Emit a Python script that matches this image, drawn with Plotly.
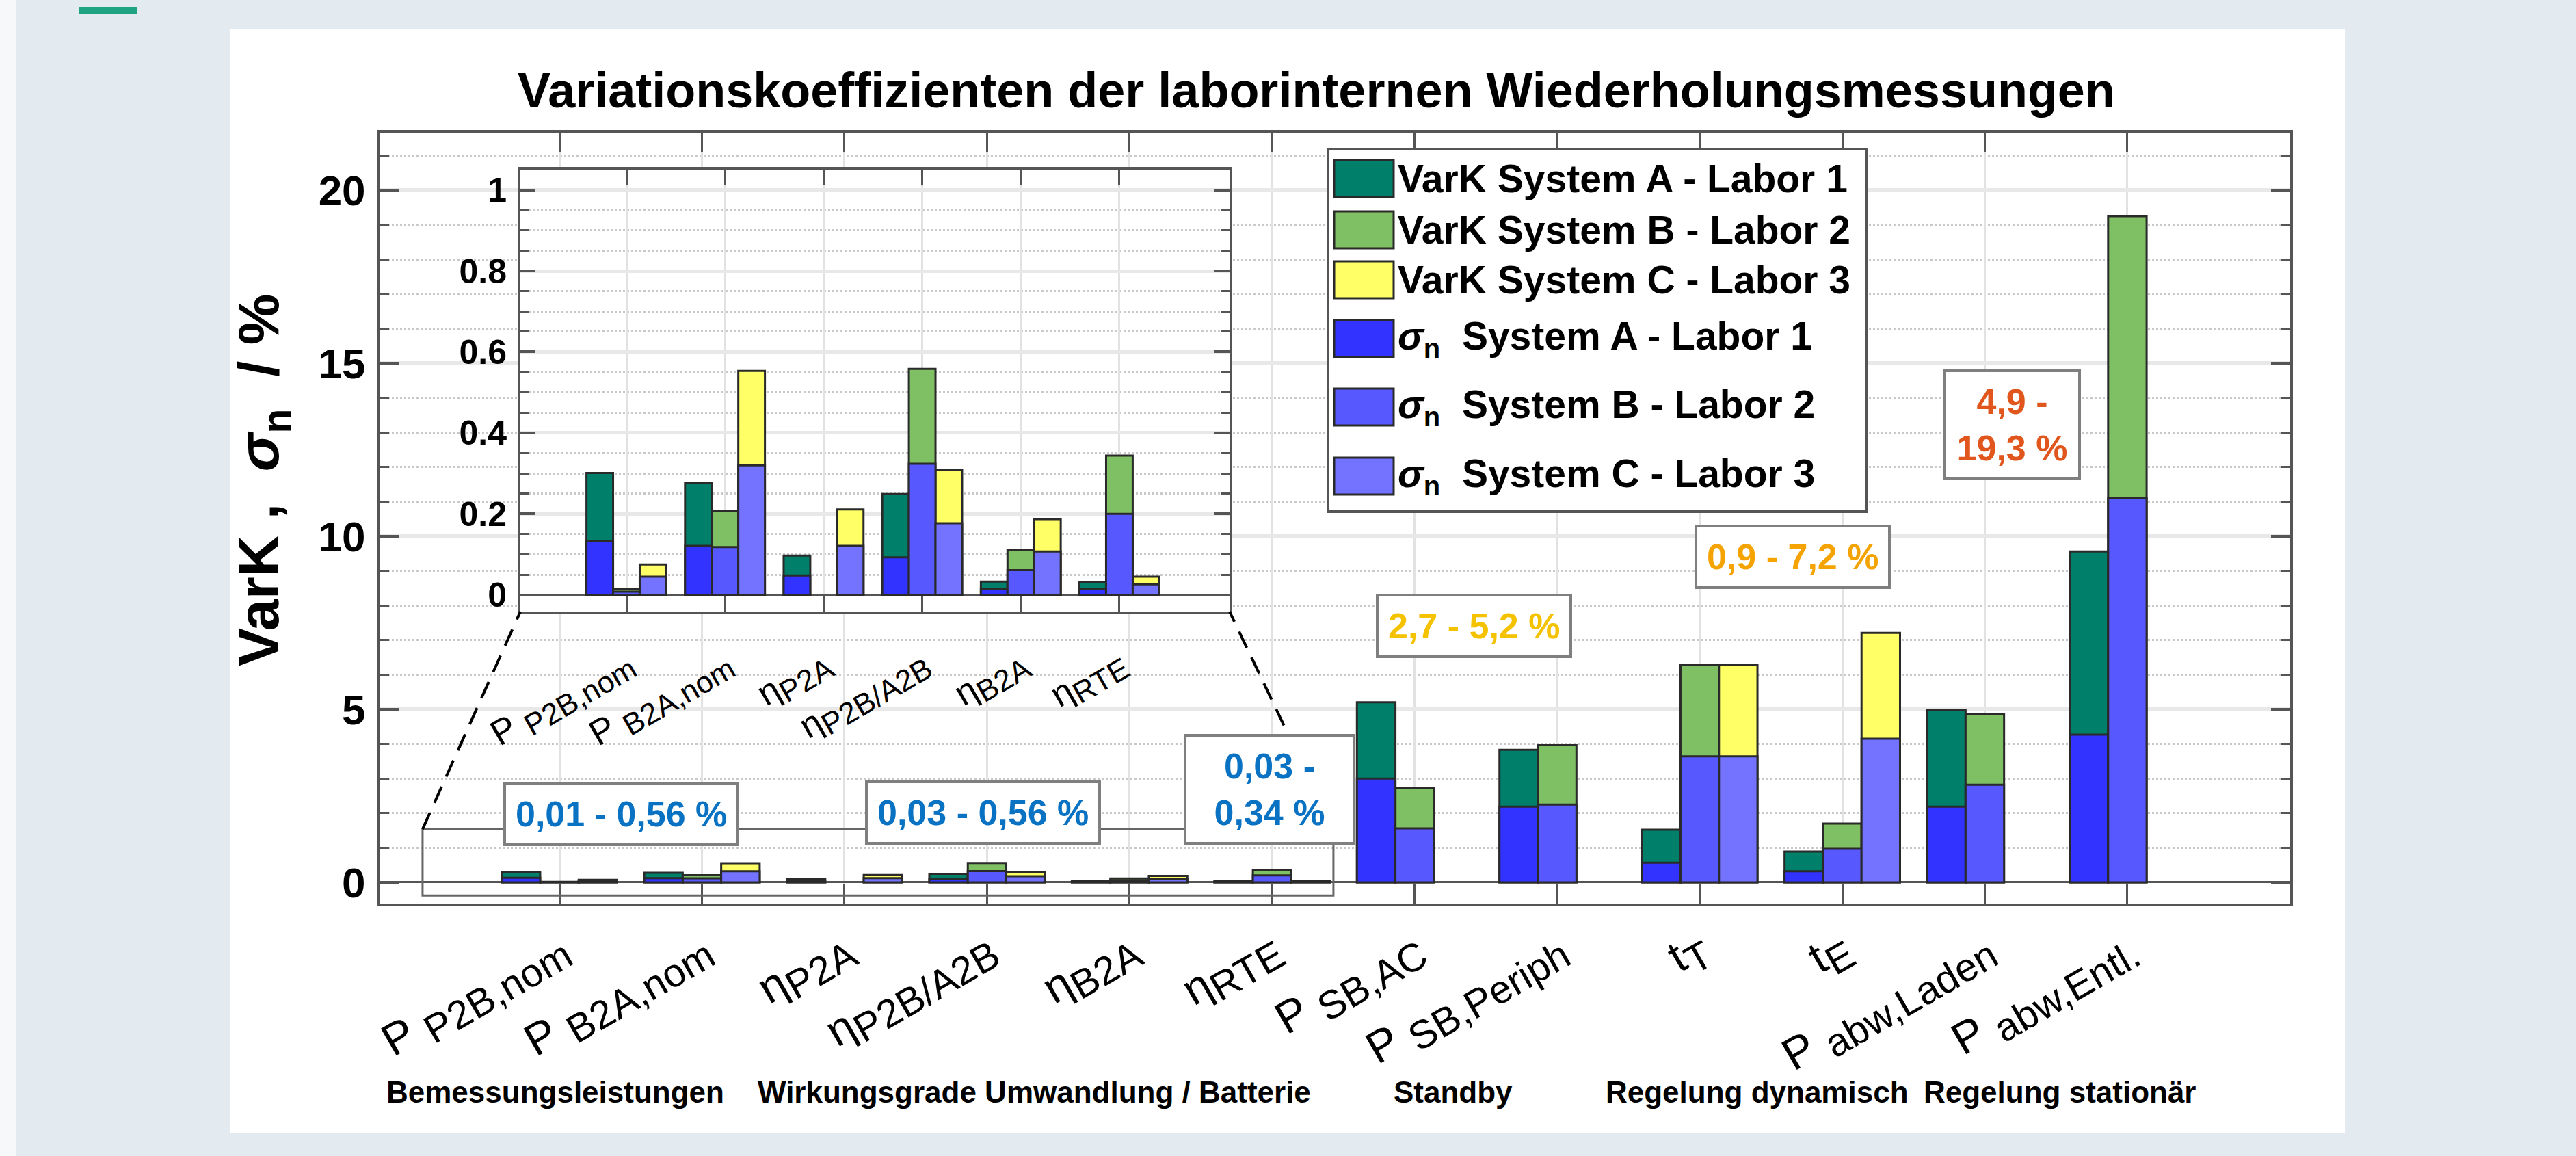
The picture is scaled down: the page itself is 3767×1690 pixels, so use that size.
import plotly.graph_objects as go

# ---------------- data ----------------
CATEGORIES = ["P_P2B,nom", "P_B2A,nom", "eta_P2A", "eta_P2B/A2B", "eta_B2A", "eta_RTE",
              "P_SB,AC", "P_SB,Periph", "t_T", "t_E", "P_abw,Laden", "P_abw,Entl."]
TICK_MAIN = ["P ", "P ", "η", "η", "η", "η", "P ", "P ", "t", "t", "P ", "P "]
TICK_SUB = ["P2B,nom", "B2A,nom", "P2A", "P2B/A2B", "B2A", "RTE", "SB,AC", "SB,Periph", "T", "E",
            "abw,Laden", "abw,Entl."]
INSET_N = 6  # first six categories are repeated in the zoomed inset

VARK_A = [0.301, 0.276, 0.097, 0.249, 0.033, 0.031, 5.20, 3.83, 1.52, 0.89, 4.98, 9.56]
VARK_B = [0.015, 0.208, None, 0.558, 0.111, 0.344, 2.73, 3.97, 6.28, 1.70, 4.86, 19.25]
VARK_C = [0.075, 0.553, 0.211, 0.308, 0.187, 0.045, None, None, 6.28, 7.21, None, None]
SIGMA_A = [0.133, 0.121, 0.048, 0.093, 0.015, 0.014, 3.00, 2.19, 0.57, 0.32, 2.19, 4.27]
SIGMA_B = [0.008, 0.118, None, 0.324, 0.061, 0.200, 1.56, 2.25, 3.64, 0.99, 2.82, 11.10]
SIGMA_C = [0.045, 0.320, 0.121, 0.177, 0.107, 0.026, None, None, 3.64, 4.15, None, None]

SYSTEMS = ["A", "B", "C"]
VARK_NAMES = ["VarK System A - Labor 1", "VarK System B - Labor 2", "VarK System C - Labor 3"]
SIGMA_NAMES = ["<i>σ</i><sub>n</sub>&nbsp; System A - Labor 1",
               "<i>σ</i><sub>n</sub>&nbsp; System B - Labor 2",
               "<i>σ</i><sub>n</sub>&nbsp; System C - Labor 3"]
GROUP_LABELS = ["Bemessungsleistungen", "Wirkungsgrade Umwandlung / Batterie", "Standby",
                "Regelung dynamisch", "Regelung stationär"]
RANGE_TEXTS = ["0,01 - 0,56 %", "0,03 - 0,56 %", "0,03 -<br>0,34 %", "2,7 - 5,2 %",
               "0,9 - 7,2 %", "4,9 -<br>19,3 %"]
TITLE = "Variationskoeffizienten der laborinternen Wiederholungsmessungen"
Y_TITLE = "VarK ,  <i>σ</i><sub>n</sub>  / %"

# ---------------- styles / layout geometry ----------------
VARK_COLORS = ["#00806a", "#80c064", "#ffff66"]
SIGMA_COLORS = ["#3333ff", "#5858ff", "#7373ff"]
RANGE_COLORS = ["#0a72c2", "#0a72c2", "#0a72c2", "#f5c200", "#f5a300", "#e0561c"]
OUTLINE = "#2a2a2a"
AX = "#555555"
FONT = "Liberation Sans, Arial, Helvetica, sans-serif"
W, H = 3767, 1690
PL, PR, PT, PB = 555, 3349, 194, 1321


def px(x):
    return (x - PL) / (PR - PL)


def py(y):
    return (PB - y) / (PB - PT)


def tick_texts(sub_size):
    return [f"{m}<sub><span style='font-size:{sub_size}px'>{s}</span></sub>"
            for m, s in zip(TICK_MAIN, TICK_SUB)]


X_RANGE = [-1.262, 12.142]
Y_RANGE = [-0.613, 21.66]
X2_RANGE = [-1.075, 6.117]
Y2_RANGE = [-0.041, 1.05]
INSET_DOM_X = [px(761), px(1798)]
INSET_DOM_Y = [py(894), py(248)]
ZOOM_BOX = dict(x0=-0.96, x1=5.43, y0=-0.38, y1=1.54)


def mx(v):
    return (v - X_RANGE[0]) / (X_RANGE[1] - X_RANGE[0])


def my(v):
    return (v - Y_RANGE[0]) / (Y_RANGE[1] - Y_RANGE[0])


# ---------------- traces ----------------
fig = go.Figure()
vark = [VARK_A, VARK_B, VARK_C]
sigma = [SIGMA_A, SIGMA_B, SIGMA_C]
for xa, ya, n in [("x", "y", len(CATEGORIES)), ("x2", "y2", INSET_N)]:
    for vals_list, colors, names in [(vark, VARK_COLORS, VARK_NAMES), (sigma, SIGMA_COLORS, SIGMA_NAMES)]:
        for s, vals, col, name in zip(SYSTEMS, vals_list, colors, names):
            fig.add_trace(go.Bar(
                x=CATEGORIES[:n], y=vals[:n], name=name, offsetgroup=s,
                marker=dict(color=col, line=dict(color=OUTLINE, width=3)),
                xaxis=xa, yaxis=ya, showlegend=False))

axis_common = dict(showline=True, linecolor=AX, linewidth=4, mirror="ticks", ticks="inside",
                   tickcolor=AX, automargin=False)

fig.update_layout(
    width=W, height=H, autosize=False,
    margin=dict(l=PL, r=W - PR, t=PT, b=H - PB, pad=0),
    paper_bgcolor="#e3ebf1", plot_bgcolor="white",
    font=dict(family=FONT, color="black"),
    barmode="group", bargap=0.19, bargroupgap=0,
    showlegend=False,
    title=dict(text=TITLE, font=dict(size=72, weight="bold", family=FONT),
               x=px(1925), xref="paper", xanchor="center", y=1 - 132 / H, yref="container",
               yanchor="middle"),
    xaxis=dict(**axis_common, type="category", categoryorder="array", categoryarray=CATEGORIES,
               tickmode="array", tickvals=CATEGORIES, ticktext=tick_texts(58), range=X_RANGE,
               ticklen=28, tickwidth=3, tickangle=-30, ticklabelstandoff=-4,
               tickfont=dict(size=66, family=FONT),
               showgrid=True, gridcolor="#e2e2e2", gridwidth=3),
    yaxis=dict(**axis_common, range=Y_RANGE, tick0=0, dtick=5, ticklen=28, tickwidth=4,
               tickfont=dict(size=62, weight="bold", family=FONT), ticklabelstandoff=4,
               showgrid=True, gridcolor="#e8e8e8", gridwidth=5,
               zeroline=True, zerolinecolor=AX, zerolinewidth=3,
               minor=dict(dtick=1, tick0=0, ticks="inside", ticklen=14, tickwidth=3, tickcolor=AX,
                          showgrid=True, gridcolor="#c9c9c9", griddash="dot", gridwidth=3)),
    xaxis2=dict(**axis_common, type="category", categoryorder="array",
                categoryarray=CATEGORIES[:INSET_N], tickmode="array", tickvals=CATEGORIES[:INSET_N],
                ticktext=tick_texts(44)[:INSET_N], range=X2_RANGE, domain=INSET_DOM_X, anchor="y2",
                ticklen=22, tickwidth=3, tickangle=-30, ticklabelstandoff=20,
                tickfont=dict(size=52, family=FONT),
                showgrid=True, gridcolor="#e2e2e2", gridwidth=3),
    yaxis2=dict(**axis_common, range=Y2_RANGE, domain=INSET_DOM_Y, anchor="x2", tick0=0, dtick=0.2,
                ticklen=22, tickwidth=4, tickfont=dict(size=50, weight="bold", family=FONT),
                ticklabelstandoff=6,
                showgrid=True, gridcolor="#e8e8e8", gridwidth=5,
                zeroline=True, zerolinecolor=AX, zerolinewidth=3,
                minor=dict(dtick=0.05, tick0=0, ticks="inside", ticklen=12, tickwidth=3, tickcolor=AX,
                           showgrid=True, gridcolor="#c9c9c9", griddash="dot", gridwidth=3)),
)

# ---------------- page decoration ----------------
shapes = [
    dict(type="rect", xref="paper", yref="paper", x0=px(337), x1=px(3429), y0=py(1656), y1=py(42),
         fillcolor="white", line=dict(width=0), layer="below"),
    dict(type="rect", xref="paper", yref="paper", x0=px(0), x1=px(24), y0=py(H), y1=py(0),
         fillcolor="#f6f8fa", line=dict(width=0), layer="below"),
    dict(type="rect", xref="paper", yref="paper", x0=px(116), x1=px(200), y0=py(20), y1=py(10),
         fillcolor="#20a383", line=dict(width=0), layer="below"),
    # zoom region rectangle
    dict(type="rect", xref="x", yref="y", **ZOOM_BOX, line=dict(color="#666666", width=3)),
    # connector dashed lines to the inset
    dict(type="line", xref="paper", yref="paper", x0=mx(ZOOM_BOX["x0"]), y0=my(ZOOM_BOX["y1"]),
         x1=INSET_DOM_X[0], y1=INSET_DOM_Y[0], line=dict(color="black", width=4, dash="26px,16px")),
    dict(type="line", xref="paper", yref="paper", x0=mx(ZOOM_BOX["x1"]), y0=my(ZOOM_BOX["y1"]),
         x1=INSET_DOM_X[1], y1=INSET_DOM_Y[0], line=dict(color="black", width=4, dash="26px,16px")),
]

annotations = []
# y-axis title
annotations.append(dict(text=Y_TITLE, xref="paper", yref="paper", x=px(384), y=py(702),
                        textangle=-90, showarrow=False, xanchor="center", yanchor="middle",
                        font=dict(size=84, weight="bold", family=FONT)))
# group labels below categories
GROUP_X = [-0.03, 3.33, 6.27, 8.40, 10.53]
for lab, gx in zip(GROUP_LABELS, GROUP_X):
    annotations.append(dict(text=lab, xref="x", yref="paper", x=gx, y=py(1596), showarrow=False,
                            xanchor="center", yanchor="middle",
                            font=dict(size=44, weight="bold", family=FONT)))
# value range boxes
RANGE_POS = [(0.432, 1.98), (2.97, 2.02), (4.98, 2.69), (6.414, 7.41), (8.654, 9.41), (10.194, 13.22)]
RANGE_W = [None, None, 215, None, None, 165]
for txt, (ax_, ay_), col, wdt in zip(RANGE_TEXTS, RANGE_POS, RANGE_COLORS, RANGE_W):
    a = dict(text=txt, xref="x", yref="y", x=ax_, y=ay_, showarrow=False, xanchor="center",
             yanchor="middle", bgcolor="white", bordercolor="#7f7f7f", borderwidth=4, borderpad=14,
             font=dict(size=52, weight="bold", family=FONT, color=col))
    if wdt:
        a["width"] = wdt
    annotations.append(a)

# custom legend (big swatches)
shapes.append(dict(type="rect", xref="paper", yref="paper", x0=px(1942), x1=px(2730), y0=py(748),
                   y1=py(218), fillcolor="white", line=dict(color=AX, width=4)))
LEG_ROWS = [261, 336, 409, 495, 595, 696]
for row_y, name, col in zip(LEG_ROWS, VARK_NAMES + SIGMA_NAMES, VARK_COLORS + SIGMA_COLORS):
    shapes.append(dict(type="rect", xref="paper", yref="paper", x0=px(1951), x1=px(2038),
                       y0=py(row_y + 27), y1=py(row_y - 27), fillcolor=col,
                       line=dict(color=OUTLINE, width=3)))
    annotations.append(dict(text=name, xref="paper", yref="paper", x=px(2042), y=py(row_y),
                            xanchor="left", yanchor="middle", showarrow=False,
                            font=dict(size=57, weight="bold", family=FONT)))

fig.update_layout(shapes=shapes, annotations=annotations)

fig.write_html("out.html", config={"displayModeBar": False},
               post_script="document.body.style.margin='0';document.body.style.overflow='hidden';")
